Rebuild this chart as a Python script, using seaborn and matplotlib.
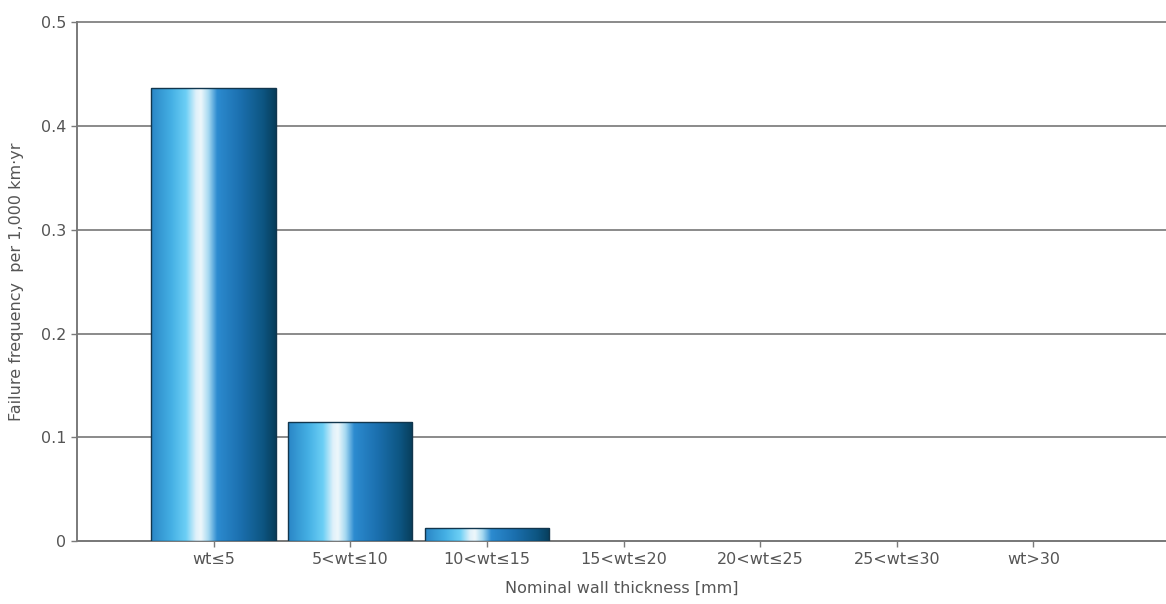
import numpy as np
import pandas as pd
import seaborn as sns
import matplotlib.pyplot as plt
from matplotlib.colors import LinearSegmentedColormap

# ---------------------------------------------------------
# Data
# ---------------------------------------------------------
categories = ["wt≤5", "5<wt≤10", "10<wt≤15", "15<wt≤20", "20<wt≤25", "25<wt≤30", "wt>30"]
failure_freq = [0.436, 0.115, 0.013, 0.0, 0.0, 0.0, 0.0]

df = pd.DataFrame({"thickness": categories, "freq": failure_freq})

sns.set_style("white")
plt.rcParams["font.family"] = ["DejaVu Sans"]

fig = plt.figure(figsize=(11.66, 6.04), dpi=100)
ax = fig.add_axes([0.066, 0.104, 0.934, 0.8596])

sns.barplot(data=df, x="thickness", y="freq", ax=ax, width=0.91,
            color="#2a88c8", edgecolor="#12364d", linewidth=1.0, zorder=3)

# cylinder-like horizontal shading
shade = LinearSegmentedColormap.from_list("tube", [
    (0.00, "#2a86c6"),
    (0.16, "#44afe4"),
    (0.28, "#6ccff5"),
    (0.36, "#dff1fa"),
    (0.40, "#eef7fb"),
    (0.46, "#a6d9f1"),
    (0.53, "#2c8bd0"),
    (0.72, "#1b6fae"),
    (0.90, "#0d5581"),
    (1.00, "#073d5a"),
])
grad = np.linspace(0, 1, 256).reshape(1, -1)
for bar in ax.patches:
    h = bar.get_height()
    if h <= 0:
        bar.set_visible(False)
        continue
    x0 = bar.get_x()
    w = bar.get_width()
    im = ax.imshow(grad, cmap=shade, aspect="auto", extent=(x0, x0 + w, 0, h),
                   zorder=3.5, interpolation="bicubic")
    im.set_clip_path(bar)
    bar.set_facecolor("none")
    bar.set_zorder(4)

ax.set_xlim(-1, 6.97)
ax.set_ylim(0, 0.5)
ax.set_yticks([0, 0.1, 0.2, 0.3, 0.4, 0.5])
ax.set_yticklabels(["0", "0.1", "0.2", "0.3", "0.4", "0.5"])

ax.grid(axis="y", color="#8a8a8a", linewidth=1.4, zorder=0)
for gl in ax.get_ygridlines():
    gl.set_clip_on(False)
ax.set_axisbelow(True)
for s in ["top", "right"]:
    ax.spines[s].set_visible(False)
for s in ["left", "bottom"]:
    ax.spines[s].set_color("#7a7a7a")
    ax.spines[s].set_linewidth(1.4)

ax.tick_params(axis="both", colors="#7a7a7a", labelcolor="#555555",
               labelsize=11.5, length=4, width=1, direction="out",
               bottom=True, left=True)

ax.set_xlabel("Nominal wall thickness [mm]", fontsize=11.5, color="#555555", labelpad=10)
ax.set_ylabel("Failure frequency  per 1,000 km·yr", fontsize=11.5, color="#555555", labelpad=12)

fig.savefig("out.png", dpi=100)
